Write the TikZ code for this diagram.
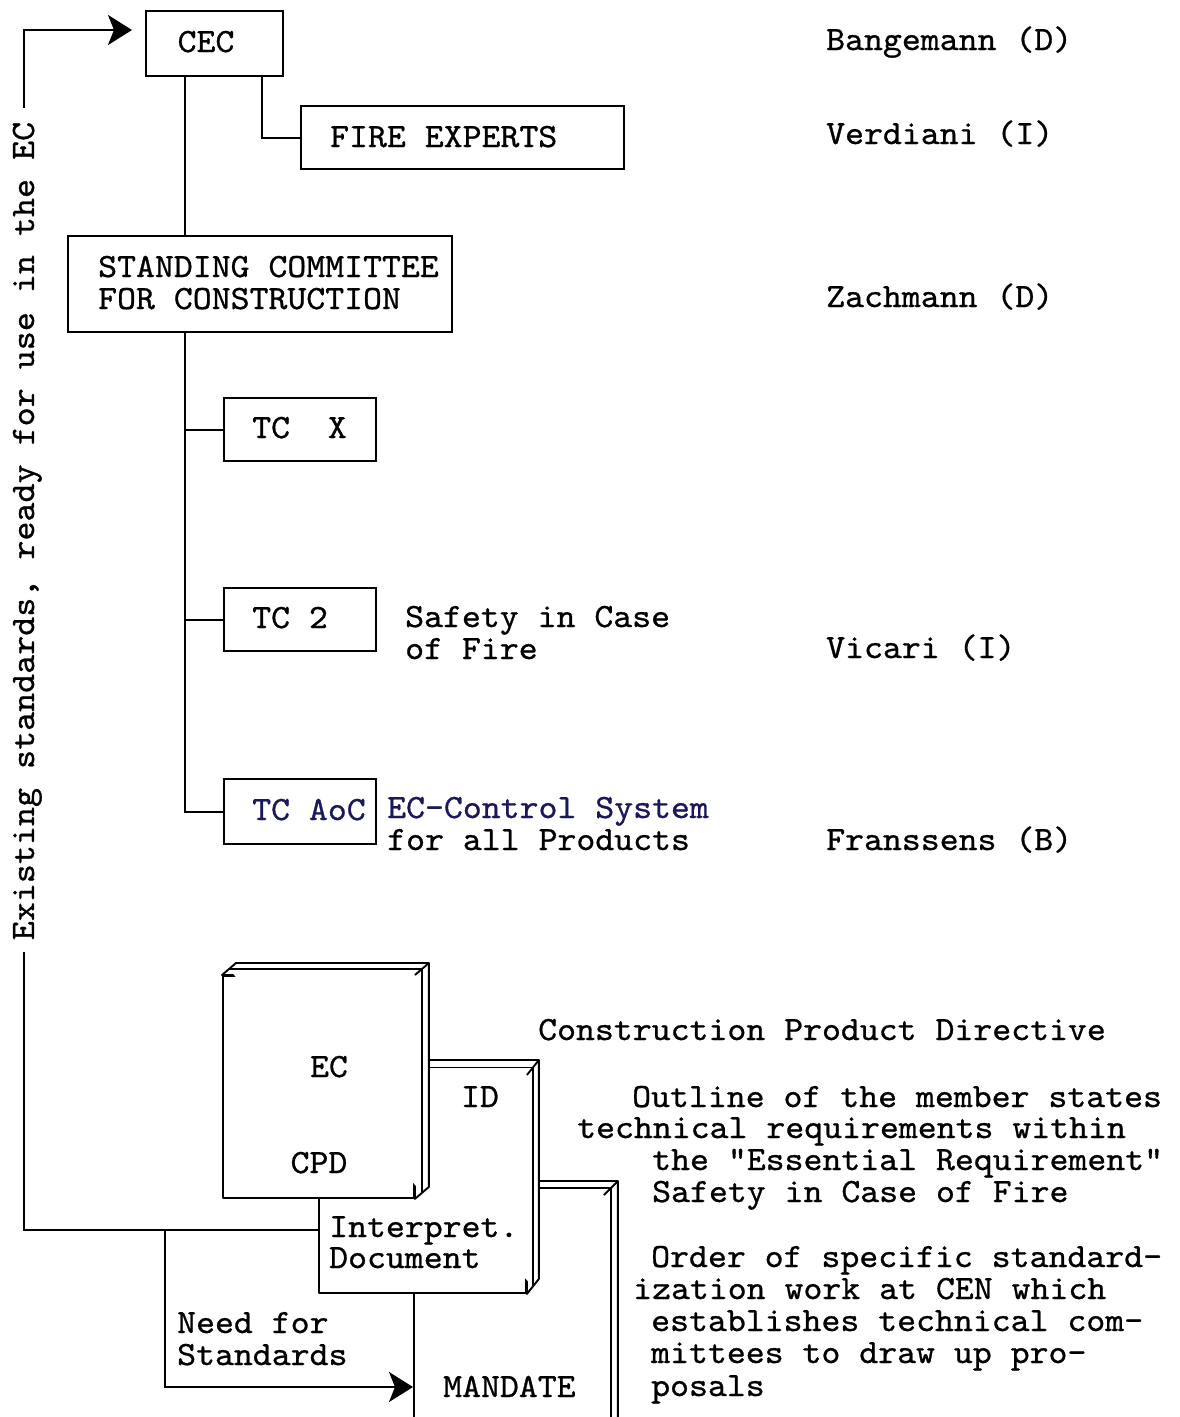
\documentclass[tikz,border=0pt]{standalone}
\usepackage{fontspec}
\setmonofont[FakeBold=0.8,FakeStretch=1.06]{lmmono10-regular.otf}
\usetikzlibrary{arrows.meta,calc}
\definecolor{navy}{RGB}{25,25,90}
\tikzset{arr/.style={-{Stealth[length=24pt,width=30pt,inset=6pt]}}}
\newcommand\bookfaces[3]{%
  \filldraw[page] (#1.north west) -- ++(#2,-#3) -- ($(#1.north east)+(#2,-#3)$)
     -- ($(#1.south east)+(#2,-#3)$) -- (#1.south east) -- (#1.north east) -- cycle;
  \draw[page] ($(#1.north west)+(#2/2,-#3/2)$) -- ($(#1.north east)+(#2/2,-#3/2)$)
     -- ($(#1.south east)+(#2/2,-#3/2)$);
  \draw[page] (#1.north east) -- ++(#2,-#3);
}
\begin{document}
\begin{tikzpicture}[x=1pt,y=-1pt,
  ln/.style={line width=2.3pt},
  boxs/.style={draw, line width=2.3pt, inner sep=0pt, anchor=north west},
  txt/.style={font=\ttfamily\fontsize{34}{32}\selectfont, inner sep=0pt, anchor=base west,
              text height=20pt, text depth=5pt},
  page/.style={draw, fill=white, line width=1.9pt, line join=round}]
\useasboundingbox (0,0) rectangle (1179,1417);

% helper coordinates
\coordinate (x185) at (185,0);
\coordinate (x262) at (262,0);
\coordinate (h1230) at (0,1230);
\coordinate (h1387) at (0,1387);
\coordinate (ltop) at (24,108);
\coordinate (lbot) at (24,952);
\coordinate (cecin) at (132,30);
\coordinate (j1) at (165,1230);

% boxes
\node[boxs, minimum width=137pt, minimum height=65pt] (cec) at (145,10) {};
\node[boxs, minimum width=323pt, minimum height=63pt] (fire) at (300,105) {};
\node[boxs, minimum width=384pt, minimum height=96pt] (stand) at (67,235) {};
\node[boxs, minimum width=152pt, minimum height=63pt] (tcx) at (223,397) {};
\node[boxs, minimum width=152pt, minimum height=63pt] (tctwo) at (223,587) {};
\node[boxs, minimum width=152pt, minimum height=65pt] (tcaoc) at (223,778) {};

% box texts
\node[txt, anchor=base] (cect) at (206,52) {CEC};
\node[txt] (firet) at (330,147) {FIRE EXPERTS};
\node[txt] (standa) at (98,277) {STANDING COMMITTEE};
\node[txt] (standb) at (98,309) {FOR CONSTRUCTION};
\node[txt] (tcxt) at (252,438) {TC~~X};
\node[txt] (tctwot) at (252,628) {TC 2};
\node[txt, text=navy] (tcaoct) at (252,820) {TC AoC};

% tree connectors
\draw[ln] (cec.south -| x185) -- (stand.north -| x185);
\draw[ln] (cec.south -| x262) |- (fire.west);
\draw[ln] (stand.south -| x185) |- (tcaoc.west);
\draw[ln] (x185 |- tcx.west) -- (tcx.west);
\draw[ln] (x185 |- tctwo.west) -- (tctwo.west);

% side texts
\node[txt] (safa) at (405,627) {Safety in Case};
\node[txt] (safb) at (405,659) {of Fire};
\node[txt, text=navy] (ecca) at (387,818) {EC-Control System};
\node[txt] (eccb) at (387,850) {for all Products};

% names
\node[txt] (nbang) at (826,50) {Bangemann (D)};
\node[txt] (nverd) at (826,144) {Verdiani (I)};
\node[txt] (nzach) at (826,307) {Zachmann (D)};
\node[txt] (nvica) at (826,658) {Vicari (I)};
\node[txt] (nfran) at (826,850) {Franssens (B)};

% vertical text
\node[txt, font=\ttfamily\fontsize{34.2}{32}\selectfont, anchor=base, rotate=90] (exist) at (34,531) {Existing standards, ready for use in the EC};

% books
\node[page, minimum width=189pt, minimum height=245pt, anchor=north west, inner sep=0pt] (mf) at (413,1195) {};
\bookfaces{mf}{14}{14}
\node[page, minimum width=207pt, minimum height=217pt, anchor=north west, inner sep=0pt] (idf) at (318,1075) {};
\bookfaces{idf}{12}{15}
\node[page, minimum width=191pt, minimum height=222pt, anchor=north west, inner sep=0pt] (ecf) at (222,975) {};
\bookfaces{ecf}{14}{12}

\node[txt, anchor=base] (ect) at (329,1077) {EC};
\node[txt, anchor=base] (cpdt) at (319,1173) {CPD};
\node[txt, anchor=base] (idt) at (480,1107) {ID};
\node[txt] (inta) at (329,1237) {Interpret.};
\node[txt] (intb) at (329,1268) {Document};
\node[txt] (mandt) at (443,1397) {MANDATE};

% left loop connectors
\draw[ln, arr] (ltop) |- (cecin);
\draw[ln] (lbot) |- (idf.west |- h1230);
\draw[ln, arr] (j1) |- (mf.west |- h1387);
\node[txt] (needa) at (177,1333) {Need for};
\node[txt] (needb) at (177,1365) {Standards};

% right texts
\node[txt] (cpdtitle) at (538,1040) {Construction Product Directive};
\node[txt] (oa) at (632,1107) {Outline of the member states};
\node[txt] (ob) at (577,1138) {technical requirements within};
\node[txt] (oc) at (652,1170) {the "Essential Requirement"};
\node[txt] (od) at (652,1202) {Safety in Case of Fire};
\node[txt] (ma) at (651,1267) {Order of specific standard-};
\node[txt] (mb) at (633,1299) {ization work at CEN which};
\node[txt] (mc) at (651,1331) {establishes technical com-};
\node[txt] (md) at (651,1363) {mittees to draw up pro-};
\node[txt] (me) at (651,1396) {posals};
\end{tikzpicture}
\end{document}
